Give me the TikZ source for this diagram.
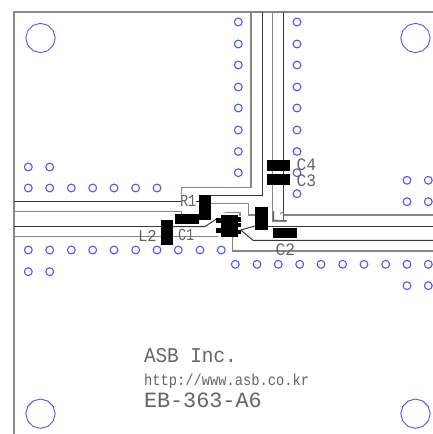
\documentclass[tikz,border=0pt]{standalone}
\usepackage{graphicx}
\usepackage{fontspec}
\setmonofont{Liberation Mono}
\newcommand{\lbl}[5]{\node[lab,font=\fontsize{#3}{#3}\selectfont\ttfamily] at (#1,#2) {\scalebox{#4}[1]{#5}};}
\tikzset{
  hole/.style={draw=holeblue,line width=1.1pt},
  bighole/.style={draw=holeblue,line width=0.9pt},
  gtrace/.style={draw=tracegray,line width=1.4pt},
  dtrace/.style={draw=tracedark,line width=1pt},
  pad/.style={fill=black,draw=none},
  lab/.style={text=labgray,anchor=base west,inner sep=0pt,outer sep=0pt},
}
\definecolor{holeblue}{RGB}{85,85,250}
\definecolor{tracegray}{RGB}{135,135,135}
\definecolor{tracedark}{RGB}{55,55,55}
\definecolor{labgray}{RGB}{100,100,100}
\begin{document}
\begin{tikzpicture}[x=1pt,y=-1pt]
\useasboundingbox (0,0) rectangle (433,434);
\fill[white] (0,0) rectangle (433,434);
% frame
\draw[gtrace] (433,12) -- (14,12) -- (14,434);
% mounting holes
\foreach \cx/\cy in {40.5/38,415.5/38,40.5/413.7,415.5/413.7}
  \draw[bighole] plot[samples=13,domain=90:450,variable=\t] ({\cx+14.7*cos(\t)},{\cy+14.7*sin(\t)});
% small holes
\foreach \y in {22,44,65,87,108,130,151.5,172.7}
  \draw[hole] (238.3,\y) circle (3.9);
\foreach \y in {22,44,65,87,108,130,151.5,172.7,193.7}
  \draw[hole] (297,\y) circle (3.9);
\foreach \x in {28.3,49.7} {
  \draw[hole] (\x,167) circle (3.9);
  \draw[hole] (\x,271.7) circle (3.9);
}
\foreach \x in {28.3,49.7,71.3,92.7,114,135.7,157}
  \draw[hole] (\x,188) circle (3.9);
\foreach \x in {28.3,49.7,71.3,92.7,114,135.7,157,178.3,200,221.3}
  \draw[hole] (\x,250) circle (3.9);
\foreach \x in {235.3,257,278.3,299.7,321,342.7,364,385.7,407,428.3}
  \draw[hole] (\x,264.3) circle (3.9);
\foreach \y in {180.3,201.7,285.7} {
  \draw[hole] (407,\y) circle (3.9);
  \draw[hole] (428.3,\y) circle (3.9);
}
% traces
\draw[gtrace] (251,12) -- (251,187.7) -- (181.7,187.7) -- (181.7,194);
\draw[dtrace] (262.3,12) -- (262.3,195.5) -- (205,195.5);
\draw[gtrace] (272.7,12) -- (272.7,221) -- (287,221);
\draw[dtrace] (283.3,12) -- (283.3,215);
\draw[gtrace] (283.3,215) -- (433,215);
\draw[gtrace] (205,203.3) -- (248.3,203.3) -- (248.3,214.8) -- (257,214.8);
\draw[dtrace] (14,201.3) -- (181,201.3);
\draw[dtrace] (196,201.3) -- (201,201.3);
\draw[gtrace] (14,211.7) -- (181.7,211.7) -- (181.7,216);
\draw[dtrace] (14,226.3) -- (162,226.3);
\draw[dtrace] (172,226.5) -- (205,226.5) -- (218,218);
\draw[gtrace] (14,236.7) -- (218,236.7);
\draw[dtrace] (240.7,230) -- (255,226) ;
\draw[dtrace] (266,226.3) -- (433,226.3);
\draw[dtrace] (240.7,230) -- (253,240.3) -- (433,240.3);
\draw[gtrace] (232.3,236) -- (232.3,251) -- (433,251);
\draw[gtrace] (224.5,212.7) -- (240,212.7) -- (240,216);
% parts
\fill[pad] (160.7,220) rectangle (173.3,244.7);
\fill[pad] (174.7,213.5) rectangle (199.3,224);
\fill[pad] (199.3,195) rectangle (211.3,220);
\fill[pad] (220.7,214.5) rectangle (238,237.3);
\fill[pad] (216,217.5) rectangle (221,222.5);
\fill[pad] (216,228) rectangle (221,233);
\fill[pad] (238,217) rectangle (241,221.5);
\fill[pad] (238,223) rectangle (241,227);
\fill[pad] (238,230) rectangle (241,234);
\fill[pad] (255,206.7) rectangle (268,230);
\fill[pad] (266.7,160) rectangle (290.3,170.7);
\fill[pad] (267.3,174) rectangle (290.3,185);
\fill[pad] (273.3,228.3) rectangle (296.7,238.3);
% labels
\lbl{180}{206}{17}{.8}{R1}
\lbl{138}{241}{16.5}{.95}{L2}
\lbl{178}{240.7}{17}{.8}{C1}
\lbl{275.5}{255}{17.5}{.93}{C2}
\lbl{296.7}{170.7}{17.5}{.93}{C4}
\lbl{296.7}{186.7}{17.5}{.93}{C3}
\lbl{271.7}{221.7}{15}{.85}{L1}
\lbl{144}{362}{21}{.92}{ASB Inc.}
\lbl{144}{385}{16}{.86}{http://www.asb.co.kr}
\lbl{144}{407}{21.8}{1}{EB-363-A6}
\end{tikzpicture}
\end{document}
